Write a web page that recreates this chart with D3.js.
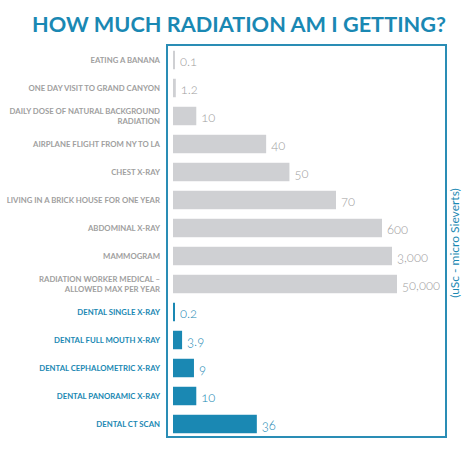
<!DOCTYPE html>
<html>
<head>
<meta charset="utf-8">
<script src="https://cdn.jsdelivr.net/npm/d3@7"></script>
<style>
  html, body { margin: 0; padding: 0; background: #fff; }
  svg { display: block; }
</style>
</head>
<body>
<svg id="chart" width="474" height="453"></svg>
<script>
// ---- data ----
const title = "HOW MUCH RADIATION AM I GETTING?";
const unitLabel = "(uSc - micro Sieverts)";
const categories = [
  ["EATING A BANANA"],
  ["ONE DAY VISIT TO GRAND CANYON"],
  ["DAILY DOSE OF NATURAL BACKGROUND", "RADIATION"],
  ["AIRPLANE FLIGHT FROM NY TO LA"],
  ["CHEST X-RAY"],
  ["LIVING IN A BRICK HOUSE FOR ONE YEAR"],
  ["ABDOMINAL X-RAY"],
  ["MAMMOGRAM"],
  ["RADIATION WORKER MEDICAL –", "ALLOWED MAX PER YEAR"],
  ["DENTAL SINGLE X-RAY"],
  ["DENTAL FULL MOUTH X-RAY"],
  ["DENTAL CEPHALOMETRIC X-RAY"],
  ["DENTAL PANORAMIC X-RAY"],
  ["DENTAL CT SCAN"]
];
const values = [0.1, 1.2, 10, 40, 50, 70, 600, 3000, 50000, 0.2, 3.9, 9, 10, 36];
const valueLabels = ["0.1", "1.2", "10", "40", "50", "70", "600", "3,000", "50,000", "0.2", "3.9", "9", "10", "36"];
const isDental = [false, false, false, false, false, false, false, false, false, true, true, true, true, true];
// broken (piecewise) value axis used by the infographic
const axisBreaks = [0, 70, 600, 3000, 50000];

// ---- styles ----
const teal = "#1a88b3";
const grayBar = "#cfd0d3";
const grayText = "#a0a0a0";

const svg = d3.select("#chart");
const frame = { left: 167, top: 45, right: 446, bottom: 437 };
const barX0 = 173;

const rows = d3.range(values.length);
const y = d3.scaleBand().domain(rows).range([frame.top + 1, frame.bottom + 1]).paddingInner(0.34).paddingOuter(0.17);

// piecewise linear: linear up to 70, compressed beyond
const x = d3.scaleLinear()
  .domain(axisBreaks)
  .range([barX0, 336, 382, 392, 397]);

// title
svg.append("text")
  .attr("x", 239).attr("y", 32)
  .attr("text-anchor", "middle")
  .attr("font-family", "Lato, 'Open Sans', sans-serif")
  .attr("font-weight", 700)
  .attr("font-size", 20)
  .attr("fill", teal)
  .attr("textLength", 414)
  .attr("lengthAdjust", "spacingAndGlyphs")
  .text(title);

// frame
svg.append("rect")
  .attr("x", frame.left).attr("y", frame.top)
  .attr("width", frame.right - frame.left)
  .attr("height", frame.bottom - frame.top)
  .attr("fill", "none")
  .attr("stroke", "#2a8db5")
  .attr("stroke-width", 2);

// bars
svg.append("g").selectAll("rect")
  .data(rows)
  .join("rect")
  .attr("x", barX0)
  .attr("y", i => y(i))
  .attr("width", i => Math.max(2, x(values[i]) - barX0))
  .attr("height", y.bandwidth())
  .attr("fill", i => isDental[i] ? teal : grayBar);

// value labels
svg.append("g").selectAll("text")
  .data(rows)
  .join("text")
  .attr("x", i => Math.max(barX0 + 2, x(values[i])) + 5)
  .attr("y", i => y(i) + y.bandwidth() / 2 + 6)
  .attr("font-family", "Lato, 'Open Sans', sans-serif")
  .attr("font-weight", 300)
  .attr("font-size", 13)
  .style("font-variant-numeric", "oldstyle-nums")
  .attr("fill", i => isDental[i] ? teal : grayText)
  .text(i => valueLabels[i]);

// category labels
const cat = svg.append("g").selectAll("text")
  .data(rows)
  .join("text")
  .attr("text-anchor", "end")
  .attr("font-family", "Lato, 'Open Sans', sans-serif")
  .attr("font-weight", 700)
  .attr("font-size", 7.75)
  .attr("fill", i => isDental[i] ? teal : grayText)
  .attr("transform", i => `translate(160,${y(i) + y.bandwidth() / 2})`);

cat.selectAll("tspan")
  .data(i => categories[i].map((t, k) => ({ t, k, n: categories[i].length })))
  .join("tspan")
  .attr("x", 0)
  .attr("y", d => (d.k - (d.n - 1) / 2) * 10 + 2.8)
  .text(d => d.t);

// unit label
svg.append("text")
  .attr("transform", "translate(454,243) rotate(-90)")
  .attr("text-anchor", "middle")
  .attr("dominant-baseline", "central")
  .attr("font-family", "Lato, 'Open Sans', sans-serif")
  .attr("font-size", 12)
  .attr("fill", teal)
  .text(unitLabel);
</script>
</body>
</html>
